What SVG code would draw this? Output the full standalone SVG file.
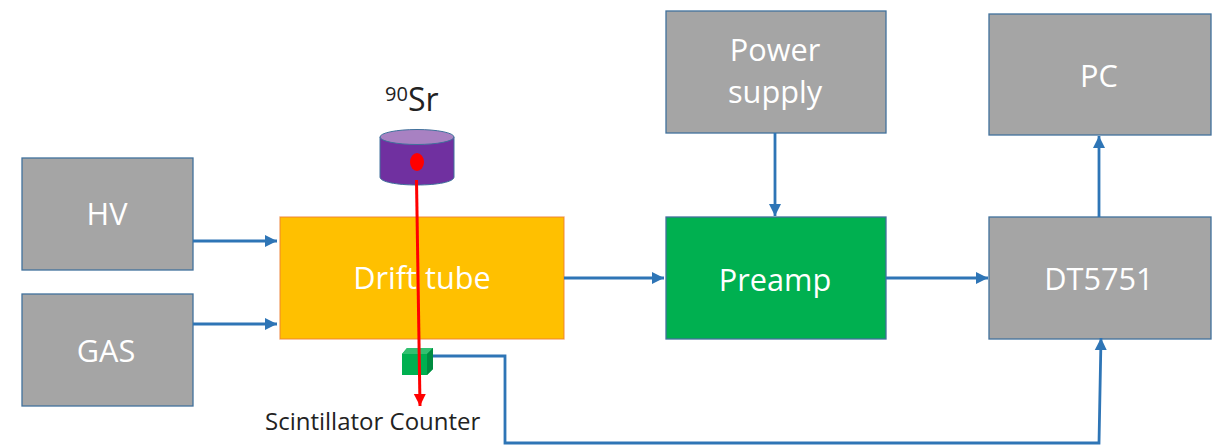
<svg xmlns="http://www.w3.org/2000/svg" width="1221" height="445" viewBox="0 0 1221 445">
<style>
.n{fill:#a5a5a5;stroke:#41719c;stroke-width:1.3}
.t{font-family:"Open Sans","Noto Sans",sans-serif;font-size:30.7px;fill:#fff;text-anchor:middle}
.k{fill:none;stroke:#2e75b6;stroke-width:2.8}
.b{font-family:"Open Sans","Noto Sans",sans-serif;fill:#222}
</style>
<defs>
<marker id="a" markerUnits="userSpaceOnUse" markerWidth="13" markerHeight="13" refX="12" refY="6.5" orient="auto"><path d="M0 0.5L12 6.5L0 12.5z" fill="#2e75b6"/></marker>
<marker id="r" markerUnits="userSpaceOnUse" markerWidth="13" markerHeight="13" refX="12" refY="6" orient="auto"><path d="M0 0L12 6L0 12z" fill="#ff0000"/></marker>
</defs>
<g id="hv"><rect class="n" x="22" y="158" width="171" height="112"/><text class="t" x="107" y="225">HV</text></g>
<g id="gas"><rect class="n" x="22" y="294" width="171" height="112"/><text class="t" x="106" y="362">GAS</text></g>
<g id="drift"><rect x="280" y="217" width="284" height="122" fill="#ffc000" stroke="#ed7d31" stroke-opacity=".7" stroke-width="1.3"/><text class="t" x="422" y="289">Drift tube</text></g>
<g id="preamp"><rect x="666" y="217" width="220" height="122" fill="#00b050" stroke="#41719c" stroke-width="1.3"/><text class="t" x="775" y="291">Preamp</text></g>
<g id="power"><rect class="n" x="666" y="11" width="220" height="122"/><text class="t" x="775" y="61">Power</text><text class="t" x="775" y="103">supply</text></g>
<g id="pc"><rect class="n" x="989" y="14" width="222" height="121"/><text class="t" x="1099" y="87">PC</text></g>
<g id="dt"><rect class="n" x="989" y="217" width="222" height="122"/><text class="t" x="1099" y="290">DT5751</text></g>
<g id="source">
<path d="M380 137V177C380 182 397 185 417 185S454 182 454 177V137z" fill="#7030a0" stroke="#41719c" stroke-width="1"/>
<ellipse cx="417" cy="137" rx="37" ry="7.5" fill="#a881c2" stroke="#41719c" stroke-width="1"/>
<ellipse cx="417" cy="162" rx="7" ry="9" fill="#ff0000"/>
<text class="b" x="385" y="111" font-size="32"><tspan font-size="20" dy="-10">90</tspan><tspan dy="10">Sr</tspan></text>
</g>
<g id="scint">
<path d="M402 354L407 348H433V369L427 375H402z" fill="#00b050"/>
<path d="M402 354L407 348H433L427 354z" fill="#33c070"/>
<path d="M427 354L433 348V369L427 375z" fill="#008c40"/>
<text class="b" x="265" y="430" font-size="24">Scintillator Counter</text>
</g>
<g id="connectors">
<path class="k" marker-end="url(#a)" d="M193 241H277"/>
<path class="k" marker-end="url(#a)" d="M193 324H277"/>
<path class="k" marker-end="url(#a)" d="M564 278H664"/>
<path class="k" marker-end="url(#a)" d="M886 278H988"/>
<path class="k" marker-end="url(#a)" d="M775 133V216"/>
<path class="k" marker-end="url(#a)" d="M1099 217V136"/>
<path class="k" marker-end="url(#a)" d="M433 356H505V443H1099L1101 338"/>
<path fill="none" stroke="#ff0000" stroke-width="3" marker-end="url(#r)" d="M416.500 180L420 406"/>
</g>
</svg>
